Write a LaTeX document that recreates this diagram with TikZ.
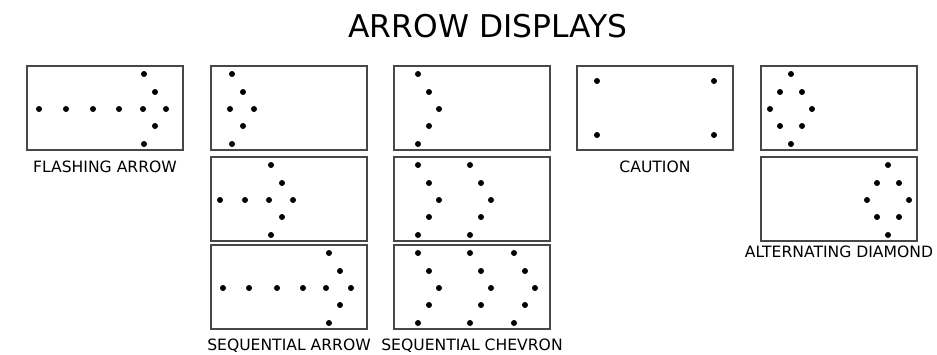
\documentclass[tikz,border=0pt]{standalone}
\usepackage{fontspec}
\setmainfont{DejaVu Sans}
\usetikzlibrary{positioning,calc}

\begin{document}
\begin{tikzpicture}[
  x=0.75pt, y=-0.75pt,
  panel/.style={draw=black!72,line width=1.1pt,minimum width=117pt,minimum height=63pt,
                inner sep=0pt,outer sep=0pt,anchor=north west},
  lbl/.style={font=\fontsize{11.7}{14}\selectfont,anchor=base,inner sep=0pt},
  ttl/.style={font=\fontsize{23.5}{28}\selectfont,anchor=base,inner sep=0pt},
  dot/.style={fill=black},
]
\useasboundingbox (0,0) rectangle (937,354);

% --- title ---
\node[ttl] (title) at (488,37) {ARROW DISPLAYS};

% --- panels ---
\node[panel] (fa) at (27,66) {};
\node[panel] (sa1) at (211,66) {};
\node[panel,below=5.25pt of sa1] (sa2) {};
\node[panel,below=3pt of sa2] (sa3) {};
\node[panel] (sc1) at (394,66) {};
\node[panel,below=5.25pt of sc1] (sc2) {};
\node[panel,below=3pt of sc2] (sc3) {};
\node[panel] (ca) at (577,66) {};
\node[panel] (ad1) at (761,66) {};
\node[panel,below=5.25pt of ad1] (ad2) {};

% --- labels ---
\node[lbl] (lfa) at ($(fa.south)+(0,22)$) {FLASHING ARROW};
\node[lbl] (lsa) at ($(sa3.south)+(0,21)$) {SEQUENTIAL ARROW};
\node[lbl] (lsc) at ($(sc3.south)+(0,21)$) {SEQUENTIAL CHEVRON};
\node[lbl] (lca) at ($(ca.south)+(0,22)$) {CAUTION};
\node[lbl] (lad) at ($(ad2.south)+(0,16)$) {ALTERNATING DIAMOND};

% --- flashing arrow ---
\foreach \x in {12,39,66,92,116} \fill[dot] ($(fa.north west)+(\x,43)$) circle (3);
\foreach \x/\y in {117/8,128/26,139/43,128/60,117/78}
  \fill[dot] ($(fa.north west)+(\x,\y)$) circle (3);

% --- sequential arrow ---
\foreach \x/\y in {19/43,21/8,32/26,43/43,32/60,21/78}
  \fill[dot] ($(sa1.north west)+(\x,\y)$) circle (3);
\foreach \x in {9,34,58} \fill[dot] ($(sa2.north west)+(\x,43)$) circle (3);
\foreach \x/\y in {60/8,71/26,82/43,71/60,60/78}
  \fill[dot] ($(sa2.north west)+(\x,\y)$) circle (3);
\foreach \x in {12,38,66,92,115} \fill[dot] ($(sa3.north west)+(\x,43)$) circle (3);
\foreach \x/\y in {118/8,129/26,140/43,129/60,118/78}
  \fill[dot] ($(sa3.north west)+(\x,\y)$) circle (3);

% --- sequential chevron ---
\foreach \x/\y in {24/8,35/26,45/43,35/60,24/78} {
  \fill[dot] ($(sc1.north west)+(\x,\y)$) circle (3);
  \foreach \o in {0,52} \fill[dot] ($(sc2.north west)+(\x+\o,\y)$) circle (3);
  \foreach \o in {0,52,96} \fill[dot] ($(sc3.north west)+(\x+\o,\y)$) circle (3);
}

% --- caution ---
\foreach \x/\y in {20/15,137/15,20/69,137/69}
  \fill[dot] ($(ca.north west)+(\x,\y)$) circle (3);

% --- alternating diamond ---
\foreach \x/\y in {0/8,-11/26,11/26,-21/43,21/43,-11/60,11/60,0/78} {
  \fill[dot] ($(ad1.north west)+(30+\x,\y)$) circle (3);
  \fill[dot] ($(ad2.north west)+(127+\x,\y)$) circle (3);
}

\end{tikzpicture}
\end{document}
